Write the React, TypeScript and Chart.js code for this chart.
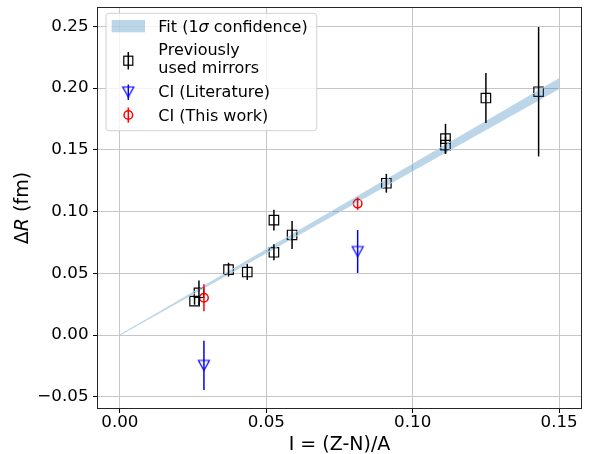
import React, { useEffect, useRef } from 'react';
import { Chart, registerables } from 'chart.js';

Chart.register(...registerables);

// ---- data ----
const prevX = [0.0255, 0.027, 0.0371, 0.0435, 0.0526, 0.0526, 0.0588, 0.091, 0.1112, 0.1112, 0.125, 0.143];
const prevY = [0.0275, 0.0342, 0.0529, 0.051, 0.093, 0.067, 0.081, 0.1229, 0.159, 0.1537, 0.1919, 0.197];
const prevErr = [0.003, 0.0099, 0.0056, 0.0064, 0.0084, 0.0064, 0.0114, 0.0076, 0.012, 0.007, 0.0203, 0.0524];

const litX = [0.0287, 0.0812];
const litY = [-0.0246, 0.0676];
const litErr = [0.02, 0.0174];

const thisX = [0.0287, 0.0812];
const thisY = [0.0302, 0.1064];
const thisErr = [0.011, 0.005];

const fitX = [0, 0.15];
const fitSlope = 1.357;
const fitSlopeErr = 0.027;

const xTicks = [0, 0.05, 0.1, 0.15];
const yTicks = [-0.05, 0, 0.05, 0.1, 0.15, 0.2, 0.25];

const legendLabels = ['Fit (1', 'σ', ' confidence)', 'Previously', 'used mirrors', 'CI (Literature)', 'CI (This work)'];
const xTitle = 'I = (Z-N)/A';
const yTitleParts = ['Δ', 'R', ' (fm)'];

const FONT = "'DejaVu Sans'";
const BAND = 'rgba(31,119,180,0.3)';
const BAND_EDGE = '#bdd6e8';
const BLUE = '#0000ff';
const RED = '#ff0000';

function makeTriangle(): HTMLCanvasElement {
  const c = document.createElement('canvas');
  c.width = 14;
  c.height = 14;
  const g = c.getContext('2d')!;
  g.strokeStyle = BLUE;
  g.lineWidth = 1.2;
  g.beginPath();
  g.moveTo(1.5, 2);
  g.lineTo(12.5, 2);
  g.lineTo(7, 12);
  g.closePath();
  g.stroke();
  return c;
}

function fmt(v: number): string {
  const s = Number(v).toFixed(2);
  return s.startsWith('-') ? '\u2212' + s.slice(1) : s;
}

const zeroPad = (s: any) => {
  s.paddingTop = 0;
  s.paddingBottom = 0;
  s.paddingLeft = 0;
  s.paddingRight = 0;
};

export default function App() {
  const ref = useRef<HTMLCanvasElement>(null);

  useEffect(() => {
    document.body.style.margin = '0';
    const canvas = ref.current!;
    const tri = makeTriangle();
    const pts = (xs: number[], ys: number[]) => xs.map((x, i) => ({ x, y: ys[i] }));

    const customPlugin = {
      id: 'custom',
      beforeDatasetsDraw(chart: any) {
        const { ctx, chartArea: a } = chart;
        ctx.save();
        ctx.strokeStyle = '#262626';
        ctx.lineWidth = 1;
        ctx.strokeRect(a.left - 0.5, a.top - 0.5, a.right - a.left + 1, a.bottom - a.top + 1);
        ctx.restore();
      },
      afterDatasetsDraw(chart: any) {
        const { ctx, scales } = chart;
        const drawErr = (xs: number[], ys: number[], es: number[], color: string) => {
          ctx.save();
          ctx.strokeStyle = color;
          ctx.lineWidth = 1.5;
          xs.forEach((x, i) => {
            const px = scales.x.getPixelForValue(x);
            ctx.beginPath();
            ctx.moveTo(px, scales.y.getPixelForValue(ys[i] - es[i]));
            ctx.lineTo(px, scales.y.getPixelForValue(ys[i] + es[i]));
            ctx.stroke();
          });
          ctx.restore();
        };
        drawErr(prevX, prevY, prevErr, '#000');
        drawErr(litX, litY, litErr, BLUE);
        drawErr(thisX, thisY, thisErr, RED);
      },
      afterDraw(chart: any) {
        const { ctx, chartArea: a } = chart;
        ctx.save();
        // axis titles
        ctx.fillStyle = '#000';
        ctx.textBaseline = 'alphabetic';
        ctx.font = `19px ${FONT}`;
        ctx.textAlign = 'center';
        ctx.fillText(xTitle, (a.left + a.right) / 2, 450);

        // y title (rotated, mixed styles)
        ctx.save();
        ctx.translate(27.5, (a.top + a.bottom) / 2);
        ctx.rotate(-Math.PI / 2);
        ctx.textAlign = 'left';
        const fonts = [`19px ${FONT}`, `italic 19px ${FONT}`, `19px ${FONT}`];
        let total = 0;
        const widths = yTitleParts.map((p, i) => {
          ctx.font = fonts[i];
          const w = ctx.measureText(p).width;
          total += w;
          return w;
        });
        let cx = -total / 2;
        yTitleParts.forEach((p, i) => {
          ctx.font = fonts[i];
          ctx.fillText(p, cx, 0);
          cx += widths[i];
        });
        ctx.restore();

        // legend box
        ctx.beginPath();
        (ctx as any).roundRect(106, 13.3, 210.7, 117.4, 3);
        ctx.fillStyle = 'rgba(255,255,255,0.8)';
        ctx.fill();
        ctx.strokeStyle = '#d0d0d0';
        ctx.lineWidth = 1;
        ctx.stroke();

        // fit patch
        ctx.fillStyle = BAND;
        ctx.fillRect(111.7, 20, 33.3, 12.3);

        const mx = 128.3;
        // square + error bar
        ctx.strokeStyle = '#000';
        ctx.lineWidth = 1.2;
        ctx.strokeRect(mx - 4.5, 60.7 - 4.5, 9, 9);
        ctx.lineWidth = 1.5;
        ctx.beginPath();
        ctx.moveTo(mx, 52);
        ctx.lineTo(mx, 69.5);
        ctx.stroke();
        // triangle + error bar
        ctx.drawImage(tri, mx - 7, 92 - 7);
        ctx.strokeStyle = BLUE;
        ctx.beginPath();
        ctx.moveTo(mx, 84.5);
        ctx.lineTo(mx, 100);
        ctx.stroke();
        // circle + error bar
        ctx.strokeStyle = RED;
        ctx.beginPath();
        ctx.arc(mx, 115, 4.3, 0, Math.PI * 2);
        ctx.stroke();
        ctx.beginPath();
        ctx.moveTo(mx, 107.5);
        ctx.lineTo(mx, 122.7);
        ctx.stroke();

        // legend texts
        ctx.fillStyle = '#000';
        ctx.textAlign = 'left';
        ctx.textBaseline = 'alphabetic';
        let tx = 158.3;
        ctx.font = `16px ${FONT}`;
        ctx.fillText(legendLabels[0], tx, 31.7);
        tx += ctx.measureText(legendLabels[0]).width;
        ctx.font = `italic 16px ${FONT}`;
        ctx.fillText(legendLabels[1], tx, 31.7);
        tx += ctx.measureText(legendLabels[1]).width;
        ctx.font = `16px ${FONT}`;
        ctx.fillText(legendLabels[2], tx, 31.7);
        ctx.fillText(legendLabels[3], 158.3, 55);
        ctx.fillText(legendLabels[4], 158.3, 73.3);
        ctx.fillText(legendLabels[5], 158.3, 97.3);
        ctx.fillText(legendLabels[6], 158.3, 120.7);
        ctx.restore();
      },
    };

    const chart = new Chart(canvas, {
      type: 'scatter',
      data: {
        datasets: [
          {
            type: 'line',
            data: pts(fitX, fitX.map((x) => x * (fitSlope - fitSlopeErr))),
            borderColor: BAND_EDGE,
            borderWidth: 1,
            pointRadius: 0,
            showLine: true,
            fill: false,
          } as any,
          {
            type: 'line',
            data: pts(fitX, fitX.map((x) => x * (fitSlope + fitSlopeErr))),
            borderColor: BAND_EDGE,
            backgroundColor: BAND,
            borderWidth: 1,
            pointRadius: 0,
            showLine: true,
            fill: '-1',
          } as any,
          {
            data: pts(prevX, prevY),
            pointStyle: 'rect',
            pointRadius: 6.7,
            borderColor: '#000',
            backgroundColor: 'rgba(0,0,0,0)',
            borderWidth: 1.2,
          },
          {
            data: pts(litX, litY),
            pointStyle: tri,
            pointRadius: 7,
            borderColor: BLUE,
            backgroundColor: 'rgba(0,0,0,0)',
          },
          {
            data: pts(thisX, thisY),
            pointStyle: 'circle',
            pointRadius: 4.3,
            borderColor: RED,
            backgroundColor: 'rgba(0,0,0,0)',
            borderWidth: 1.5,
          },
        ],
      },
      options: {
        animation: false,
        responsive: false,
        devicePixelRatio: 1,
        layout: { padding: { top: 4, right: 6, left: 0, bottom: 0 } },
        plugins: { legend: { display: false }, tooltip: { enabled: false } },
        scales: {
          x: {
            type: 'linear',
            min: -0.00748,
            max: 0.15748,
            afterBuildTicks: (s: any) => {
              s.ticks = xTicks.map((v) => ({ value: v }));
            },
            afterFit: (s: any) => {
              s.height = 46;
              zeroPad(s);
            },
            ticks: {
              callback: (v: any) => fmt(v),
              color: '#000',
              font: { family: 'DejaVu Sans', size: 16.7 },
              padding: 0,
              maxRotation: 0,
              autoSkip: false,
            },
            grid: { color: '#c6c6c6', lineWidth: 1, tickColor: '#000', tickLength: 5 },
            border: { display: false },
          },
          y: {
            type: 'linear',
            min: -0.0591,
            max: 0.2648,
            afterBuildTicks: (s: any) => {
              s.ticks = yTicks.map((v) => ({ value: v }));
            },
            afterFit: (s: any) => {
              s.width = 98;
              zeroPad(s);
            },
            ticks: {
              callback: (v: any) => fmt(v),
              color: '#000',
              font: { family: 'DejaVu Sans', size: 16.7 },
              padding: 4.5,
              autoSkip: false,
            },
            grid: { color: '#c6c6c6', lineWidth: 1, tickColor: '#000', tickLength: 5 },
            border: { display: false },
          },
        },
      },
      plugins: [customPlugin],
    });

    return () => chart.destroy();
  }, []);

  return (
    <div style={{ width: 589, height: 454, position: 'relative' }}>
      <canvas ref={ref} width={589} height={454} style={{ display: 'block' }} />
    </div>
  );
}
